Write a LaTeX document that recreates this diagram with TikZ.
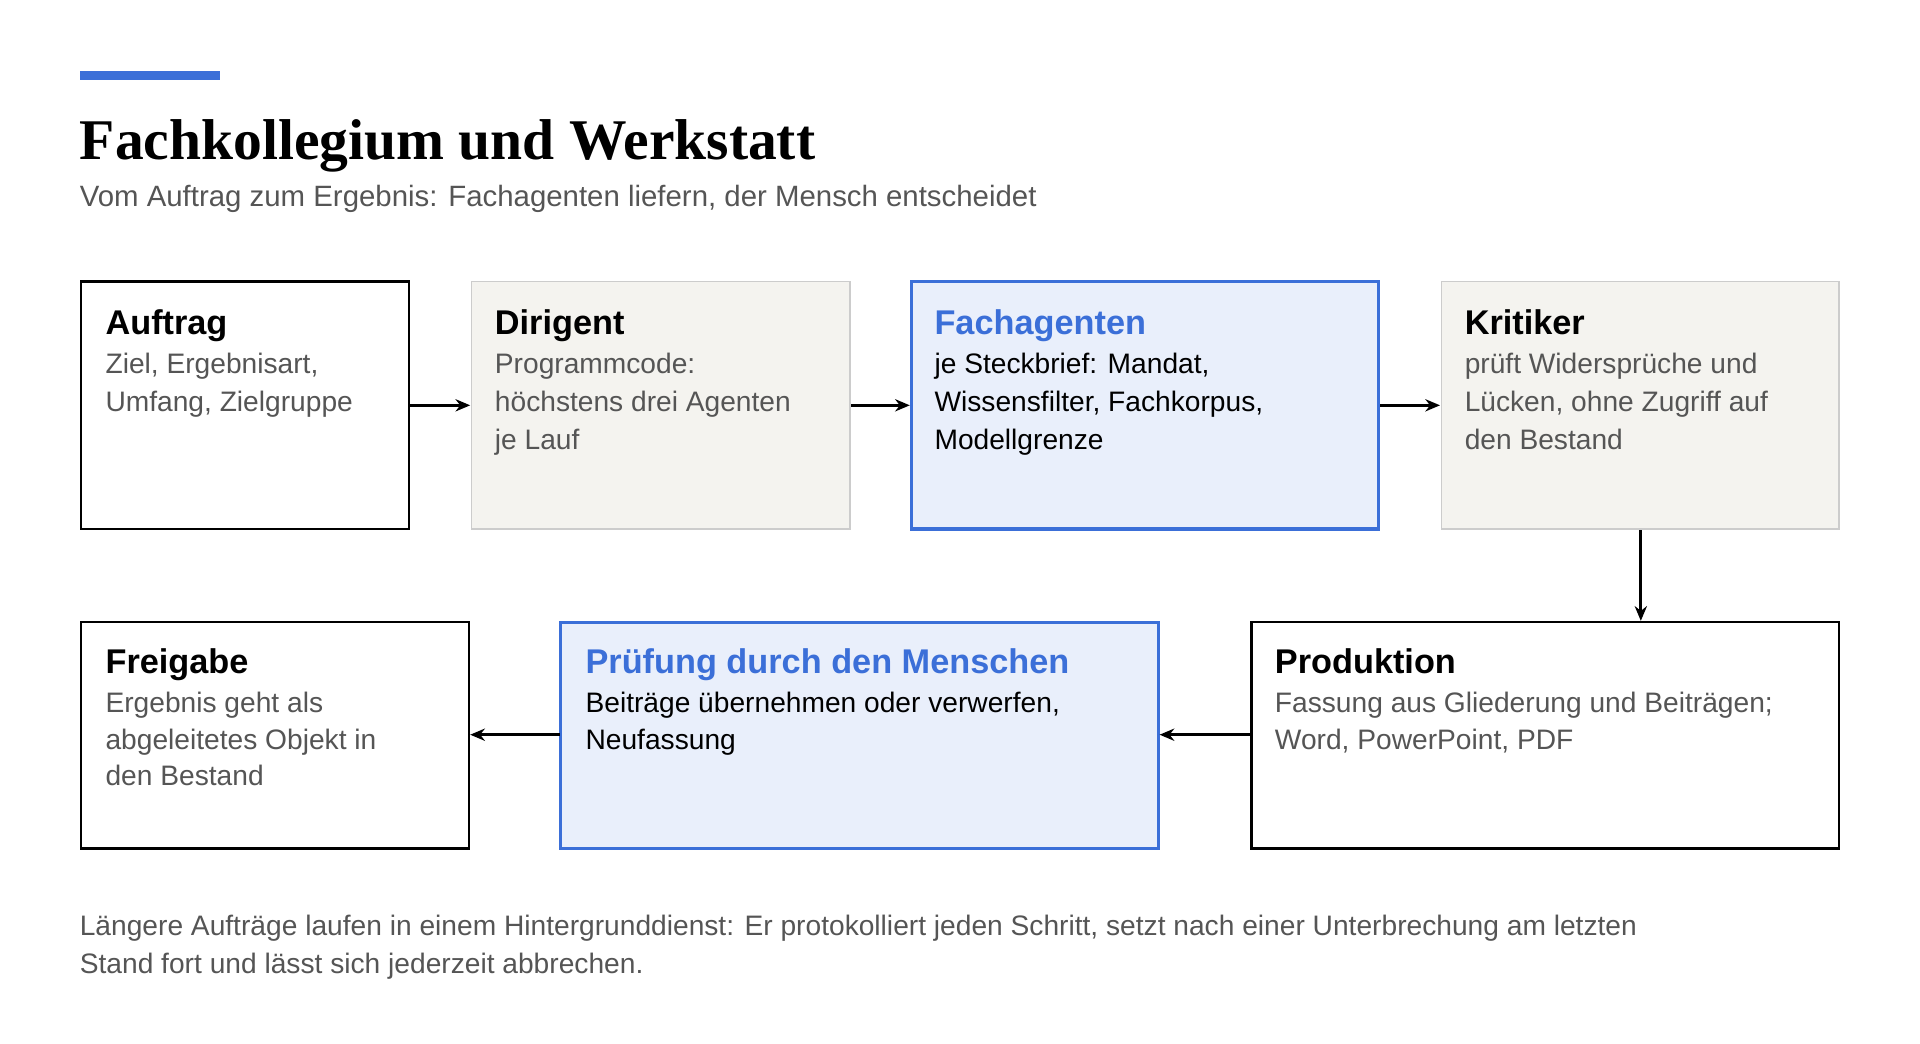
\documentclass[tikz,border=0pt]{standalone}
\usepackage{fontspec}
\setmainfont{Liberation Sans}
\newfontfamily\serif{Liberation Serif}
\usetikzlibrary{arrows.meta}
\definecolor{accent}{HTML}{3B6FD8}
\definecolor{grayfill}{HTML}{F4F3EF}
\definecolor{grayline}{HTML}{CCCCCC}
\definecolor{bluefill}{HTML}{E9EFFB}
\definecolor{txt}{HTML}{555555}
\begin{document}
\begin{tikzpicture}[x=1pt,y=-1pt,
 plain/.style={draw=black,line width=2pt,fill=white},
 grey/.style={draw=grayline,line width=1.2pt,fill=grayfill},
 blue/.style={draw=accent,line width=2.5pt,fill=bluefill},
 head/.style={anchor=base west,inner sep=0,font=\fontsize{28}{31}\selectfont\bfseries},
 body/.style={anchor=north west,inner sep=0,align=left,text=txt,font=\fontsize{23}{31}\selectfont},
 arr/.style={line width=2.5pt,-{Stealth[length=12pt,width=10pt]}}]
\useasboundingbox (0,0) rectangle (1568,852);
\fill[accent] (65,58) rectangle (180,65);
\node[anchor=base west,inner sep=0,font=\serif\fontsize{47}{50}\selectfont\bfseries] (title) at (65,130) {Fachkollegium und Werkstatt};
\node[anchor=base west,inner sep=0,text=txt,font=\fontsize{24}{28}\selectfont] (sub) at (65,169) {Vom Auftrag zum Ergebnis: Fachagenten liefern, der Mensch entscheidet};
% boxes
\draw[plain] (66,230) rectangle (334,432);
\draw[grey] (385,230) rectangle (694,432);
\draw[blue] (744,230) rectangle (1126,432);
\draw[grey] (1177,230) rectangle (1502,432);
\draw[plain] (66,508) rectangle (383,693);
\draw[blue] (458,508) rectangle (946,693);
\draw[plain] (1022,508) rectangle (1502,693);
\coordinate (auR) at (335,331); \coordinate (diL) at (384,331);
\coordinate (diR) at (695,331); \coordinate (faL) at (743,331);
\coordinate (faR) at (1127,331); \coordinate (krL) at (1176,331);
\coordinate (krB) at (1340,433); \coordinate (prT) at (1340,507);
\coordinate (prL) at (1021,600); \coordinate (puR) at (947,600);
\coordinate (puL) at (457,600); \coordinate (frR) at (384,600);
\draw[arr] (auR) -- (diL); \draw[arr] (diR) -- (faL); \draw[arr] (faR) -- (krL);
\draw[arr] (krB) -- (prT); \draw[arr] (prL) -- (puR); \draw[arr] (puL) -- (frR);
% texts
\node[head] (h1) at (86,273) {Auftrag};
\node[body] (b1) at (86,288) {Ziel, Ergebnisart,\\Umfang, Zielgruppe};
\node[head] (h2) at (404,273) {Dirigent};
\node[body] (b2) at (404,288) {Programmcode:\\höchstens drei Agenten\\je Lauf};
\node[head,text=accent] (h3) at (763,273) {Fachagenten};
\node[body,text=black] (b3) at (763,288) {je Steckbrief: Mandat,\\Wissensfilter, Fachkorpus,\\Modellgrenze};
\node[head] (h4) at (1196,273) {Kritiker};
\node[body] (b4) at (1196,288) {prüft Widersprüche und\\Lücken, ohne Zugriff auf\\den Bestand};
\node[head] (h5) at (86,550) {Freigabe};
\node[body,font=\fontsize{23}{30}\selectfont] (b5) at (86,565) {Ergebnis geht als\\abgeleitetes Objekt in\\den Bestand};
\node[head,text=accent] (h6) at (478,550) {Prüfung durch den Menschen};
\node[body,text=black,font=\fontsize{23}{30}\selectfont] (b6) at (478,565) {Beiträge übernehmen oder verwerfen,\\Neufassung};
\node[head] (h7) at (1041,550) {Produktion};
\node[body,font=\fontsize{23}{30}\selectfont] (b7) at (1041,565) {Fassung aus Gliederung und Beiträgen;\\Word, PowerPoint, PDF};
\node[body,font=\fontsize{23}{31}\selectfont] (foot) at (65,747) {Längere Aufträge laufen in einem Hintergrunddienst: Er protokolliert jeden Schritt, setzt nach einer Unterbrechung am letzten\\Stand fort und lässt sich jederzeit abbrechen.};
\end{tikzpicture}
\end{document}
